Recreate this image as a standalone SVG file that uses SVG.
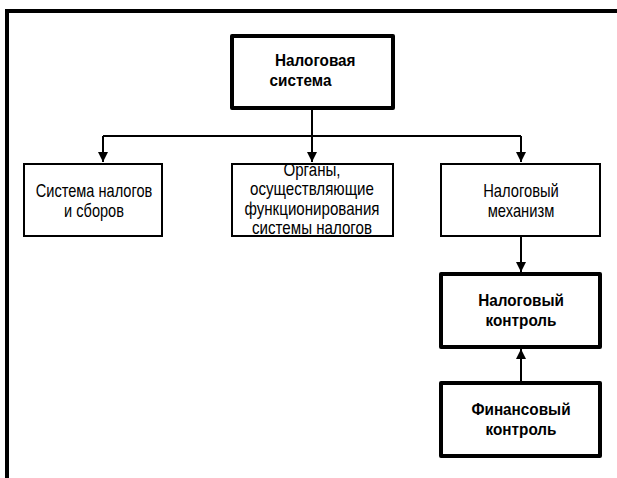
<svg xmlns="http://www.w3.org/2000/svg" width="617" height="478" viewBox="0 0 617 478">
  <style>
    .frame { fill: none; stroke: #000; stroke-width: 4; }
    .box { fill: #fff; stroke: #000; stroke-width: 2; }
    .box-bold { fill: #fff; stroke: #000; stroke-width: 4; stroke-linejoin: round; }
    .link { fill: none; stroke: #000; stroke-width: 2; }
    .txt { font-family: "Liberation Sans", Arial, sans-serif; font-size: 18px; fill: #000; text-anchor: middle; }
    .txt-b { font-family: "Liberation Sans", Arial, sans-serif; font-size: 17px; font-weight: bold; fill: #000; }
  </style>
  <defs>
    <marker id="arrow" viewBox="0 0 10 10" refX="10" refY="5" markerWidth="5" markerHeight="6" markerUnits="strokeWidth" orient="auto">
      <path d="M0,0 L10,5 L0,10 Z" fill="#000"/>
    </marker>
  </defs>
  <rect width="617" height="478" fill="#fff"/>

  <!-- outer frame: top and left sides only -->
  <path class="frame" d="M7,478 L7,11 L617,11"/>

  <g id="connectors">
    <path class="link" d="M312,108 L312,136"/>
    <path class="link" d="M103,136 L521,136"/>
    <path class="link" d="M103,136 L103,162" marker-end="url(#arrow)"/>
    <path class="link" d="M312,136 L312,162" marker-end="url(#arrow)"/>
    <path class="link" d="M521,136 L521,162" marker-end="url(#arrow)"/>
    <path class="link" d="M521,237 L521,272" marker-end="url(#arrow)"/>
    <path class="link" d="M521,382 L521,349" marker-end="url(#arrow)"/>
  </g>

  <g id="tax-system">
    <rect class="box-bold" x="232" y="36" width="161" height="72"/>
    <g transform="translate(275,0) scale(0.9,1)">
      <text class="txt-b" x="0" y="66">Налоговая</text>
      <text class="txt-b" x="-6" y="86">система</text>
    </g>
  </g>

  <g id="taxes-and-fees">
    <rect class="box" x="24" y="164" width="138" height="72"/>
    <g transform="translate(94,0) scale(0.81,1)">
      <text class="txt" x="0" y="197">Система налогов</text>
      <text class="txt" x="0" y="217">и сборов</text>
    </g>
  </g>

  <g id="bodies">
    <rect class="box" x="232" y="164" width="161" height="72"/>
    <g transform="translate(312,0) scale(0.84,1)">
      <text class="txt" x="0" y="176">Органы,</text>
      <text class="txt" x="0" y="195">осуществляющие</text>
      <text class="txt" x="0" y="215">функционирования</text>
      <text class="txt" x="0" y="234">системы налогов</text>
    </g>
  </g>

  <g id="tax-mechanism">
    <rect class="box" x="441" y="164" width="159" height="72"/>
    <g transform="translate(521,0) scale(0.82,1)">
      <text class="txt" x="0" y="197">Налоговый</text>
      <text class="txt" x="0" y="217">механизм</text>
    </g>
  </g>

  <g id="tax-control">
    <rect class="box-bold" x="441" y="274" width="159" height="73"/>
    <g transform="translate(521,0) scale(0.9,1)">
      <text class="txt-b" text-anchor="middle" x="0" y="306">Налоговый</text>
      <text class="txt-b" text-anchor="middle" x="0" y="326">контроль</text>
    </g>
  </g>

  <g id="financial-control">
    <rect class="box-bold" x="441" y="383" width="159" height="73"/>
    <g transform="translate(521,0) scale(0.9,1)">
      <text class="txt-b" text-anchor="middle" x="0" y="415">Финансовый</text>
      <text class="txt-b" text-anchor="middle" x="0" y="435">контроль</text>
    </g>
  </g>
</svg>
